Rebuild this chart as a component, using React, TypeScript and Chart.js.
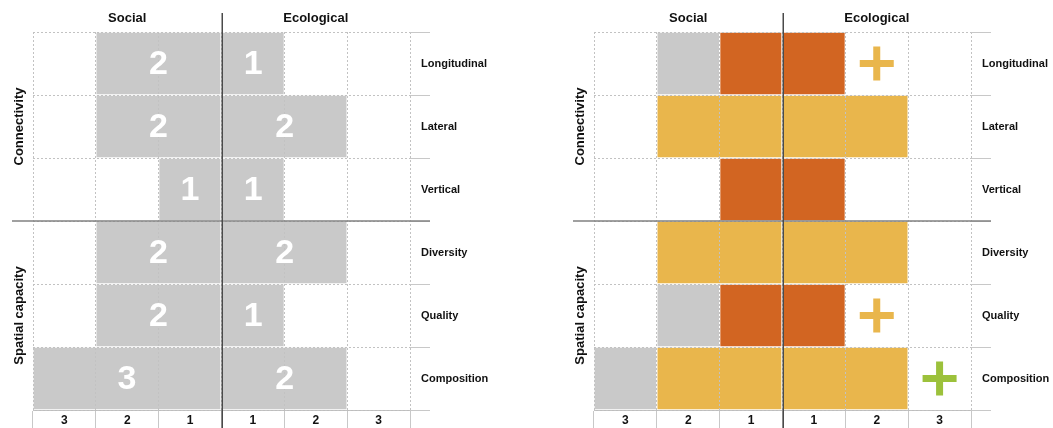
import React, { useEffect, useRef } from 'react';
import { Chart, registerables } from 'chart.js';

Chart.register(...registerables);

// ---------- data ----------
const rowLabels = ['Longitudinal', 'Lateral', 'Vertical', 'Diversity', 'Quality', 'Composition'];
const groupNames = ['Connectivity', 'Spatial capacity'];
const groupCenterRows = ['Lateral', 'Quality'];
const separatorAfterRow = 'Vertical';
const sideLabels = ['Social', 'Ecological'];
const scaleTickLabels = ['3', '2', '1', '1', '2', '3'];

// left panel (scores)
const leftSocial = [-2, -2, -1, -2, -2, -3];
const leftEcological = [1, 2, 1, 2, 1, 2];

// right panel (coloured cells)
const orangeSocial = [-1, 0, -1, 0, -1, 0];
const orangeEcological = [1, 0, 1, 0, 1, 0];
const yellowSocial = [0, -2, 0, -2, 0, -2];
const yellowEcological = [0, 2, 0, 2, 0, 2];
const graySocial = [-1, 0, 0, 0, -1, -1];

const yellowPlusRows = ['Longitudinal', 'Quality'];
const yellowPlusValues = [1.5, 1.5];
const greenPlusRows = ['Composition'];
const greenPlusValues = [2.5];

// ---------- style ----------
const FONT = '"Liberation Sans", Arial, Helvetica, sans-serif';
const GRAY = '#c9c9c9';
const ORANGE = '#d26522';
const YELLOW = '#e9b64c';
const GREEN = '#9cc13b';
const GRID = '#c2c2c2';
const TEXT = '#111111';

const decorPlugin: any = {
  id: 'decor',
  afterDraw(chart: any, _args: any, opts: any) {
    const { ctx, chartArea, scales } = chart;
    if (opts && opts.showValues) {
      chart.data.datasets.forEach((ds: any, i: number) => {
        if (!ds.showValues) return;
        const meta = chart.getDatasetMeta(i);
        meta.data.forEach((el: any, j: number) => {
          const v = ds.data[j];
          if (!v) return;
          const { x, base, y } = el.getProps(['x', 'base', 'y'], true);
          ctx.save();
          ctx.fillStyle = '#ffffff';
          ctx.font = `bold 34px ${FONT}`;
          ctx.textAlign = 'center';
          ctx.textBaseline = 'middle';
          ctx.fillText(String(Math.abs(v)), (x + base) / 2, y + 1);
          ctx.restore();
        });
      });
    }
    const xs = scales.x;
    const ys = scales.y;
    const cx = Math.round(xs.getPixelForValue(0)) + 0.25;
    const si = rowLabels.indexOf(separatorAfterRow);
    const sy = Math.round((ys.getPixelForValue(si) + ys.getPixelForValue(si + 1)) / 2);
    ctx.save();
    ctx.lineWidth = 1.5;
    ctx.strokeStyle = '#808080';
    ctx.beginPath();
    ctx.moveTo(12, sy);
    ctx.lineTo(chartArea.right + 20, sy);
    ctx.stroke();
    ctx.strokeStyle = '#4a4a4a';
    ctx.beginPath();
    ctx.moveTo(cx, 13);
    ctx.lineTo(cx, chart.height);
    ctx.stroke();
    ctx.fillStyle = TEXT;
    ctx.font = `bold 13px ${FONT}`;
    ctx.textAlign = 'center';
    ctx.textBaseline = 'middle';
    groupNames.forEach((g, k) => {
      const gy = ys.getPixelForValue(rowLabels.indexOf(groupCenterRows[k]));
      ctx.save();
      ctx.translate(19, gy);
      ctx.rotate(-Math.PI / 2);
      ctx.fillText(g, 0, 0);
      ctx.restore();
    });
    ctx.restore();
  },
};

function baseOptions(showValues: boolean): any {
  return {
    responsive: false,
    animation: false,
    indexAxis: 'y',
    events: [],
    layout: { autoPadding: false, padding: { left: 33, right: 0, top: 0, bottom: 0 } },
    plugins: {
      legend: { display: false },
      tooltip: { enabled: false },
      decor: { showValues },
    },
    scales: {
      x: {
        type: 'linear',
        position: 'top',
        min: -3,
        max: 3,
        stacked: true,
        ticks: { display: false, stepSize: 1 },
        grid: { color: GRID, drawTicks: false, z: 1 },
        border: { display: false, dash: [2, 2] },
        afterFit: (s: any) => { s.height = 0; },
      },
      xTop: {
        type: 'category',
        labels: sideLabels,
        position: 'top',
        offset: true,
        grid: { display: false, drawTicks: false },
        border: { display: false },
        ticks: { font: { family: FONT, size: 13, weight: 'bold' }, color: TEXT, padding: 6 },
        afterFit: (s: any) => { s.height = 32; },
      },
      xb: {
        type: 'category',
        labels: scaleTickLabels,
        position: 'bottom',
        offset: true,
        grid: { offset: true, drawOnChartArea: false, tickLength: 20, color: '#c8c8c8' },
        border: { display: true, color: '#bdbdbd' },
        ticks: { font: { family: FONT, size: 12, weight: 'bold' }, color: TEXT, padding: -17 },
        afterFit: (s: any) => { s.height = 18; },
      },
      y: {
        type: 'category',
        position: 'right',
        offset: true,
        stacked: true,
        grid: { offset: true, color: GRID, z: 1, tickLength: 20, tickColor: '#c8c8c8' },
        border: { display: false, dash: [2, 2] },
        ticks: { font: { family: FONT, size: 11, weight: 'bold' }, color: TEXT, padding: -9, crossAlign: 'near' },
        afterFit: (s: any) => { s.width = 82; },
      },
    },
  };
}

const barDs = (data: number[], color: string, extra: any = {}) => ({
  type: 'bar',
  data,
  backgroundColor: color,
  borderColor: '#ffffff',
  borderWidth: 1,
  borderSkipped: false,
  barPercentage: 1,
  categoryPercentage: 1,
  stack: 'bars',
  ...extra,
});

const plusDs = (rows: string[], values: number[], color: string, stack: string) => ({
  type: 'scatter',
  data: rows.map((r, i) => ({ x: values[i], y: r })),
  pointStyle: 'cross',
  pointRadius: 17,
  pointBorderWidth: 7,
  pointBorderColor: color,
  pointBackgroundColor: color,
  borderColor: color,
  backgroundColor: color,
  showLine: false,
  stack,
  clip: false,
});

function leftConfig(): any {
  return {
    type: 'bar',
    data: {
      labels: rowLabels,
      datasets: [
        barDs(leftSocial, GRAY, { showValues: true }),
        barDs(leftEcological, GRAY, { showValues: true }),
      ],
    },
    options: baseOptions(true),
    plugins: [decorPlugin],
  };
}

function rightConfig(): any {
  return {
    type: 'bar',
    data: {
      labels: rowLabels,
      datasets: [
        barDs(orangeSocial, ORANGE),
        barDs(orangeEcological, ORANGE),
        barDs(yellowSocial, YELLOW),
        barDs(yellowEcological, YELLOW),
        barDs(graySocial, GRAY),
        plusDs(yellowPlusRows, yellowPlusValues, YELLOW, 'plusY'),
        plusDs(greenPlusRows, greenPlusValues, GREEN, 'plusG'),
      ],
    },
    options: baseOptions(false),
    plugins: [decorPlugin],
  };
}

function Panel({ makeConfig, left }: { makeConfig: () => any; left: number }) {
  const ref = useRef<HTMLCanvasElement>(null);
  useEffect(() => {
    const chart = new Chart(ref.current as HTMLCanvasElement, makeConfig());
    return () => chart.destroy();
  }, []);
  return (
    <canvas
      ref={ref}
      width={492}
      height={428}
      style={{ position: 'absolute', left, top: 0, width: 492, height: 428 }}
    />
  );
}

export default function App() {
  return (
    <div style={{ position: 'absolute', left: 0, top: 0, width: 1053, height: 428, background: '#fff', overflow: 'hidden' }}>
      <Panel makeConfig={leftConfig} left={0} />
      <Panel makeConfig={rightConfig} left={561} />
    </div>
  );
}
